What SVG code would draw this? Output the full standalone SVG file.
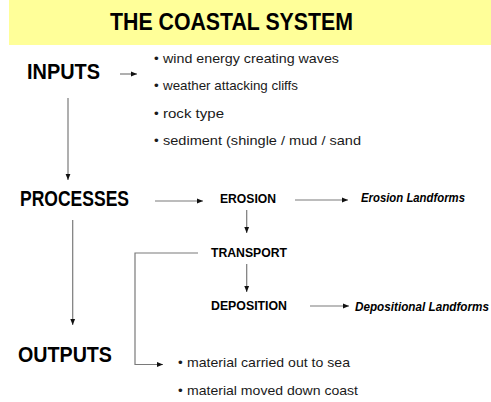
<svg xmlns="http://www.w3.org/2000/svg" width="491" height="402" viewBox="0 0 491 402">
<style>
.hdr{font-family:"Liberation Sans",Arial,sans-serif;font-weight:bold;font-size:22px;fill:#000}
.ttl{font-family:"Liberation Sans",Arial,sans-serif;font-weight:bold;font-size:23.5px;fill:#000}
.lbl{font-family:"Liberation Sans",Arial,sans-serif;font-weight:bold;font-size:12.5px;fill:#000}
.ita{font-family:"Liberation Sans",Arial,sans-serif;font-weight:bold;font-style:italic;font-size:12px;fill:#000}
.bul{font-family:"Liberation Sans",Arial,sans-serif;font-size:13.5px;fill:#1a1a1a}
.ln{fill:none;stroke:#7a7a7a;stroke-width:1.2}
</style>
<defs>
<marker id="ah" markerUnits="userSpaceOnUse" markerWidth="6" markerHeight="6" viewBox="0 0 6 6" refX="6" refY="3" orient="auto">
<path d="M0,0.6 L6,3 L0,5.4 Z" fill="#111"/>
</marker>
</defs>
<rect x="9" y="0" width="482" height="45" fill="#FFFF99"/>
<g id="title"><text class="ttl" x="110" y="30" textLength="243" lengthAdjust="spacingAndGlyphs">THE COASTAL SYSTEM</text></g>
<g id="inputs"><text class="hdr" x="27" y="79" textLength="73" lengthAdjust="spacingAndGlyphs">INPUTS</text></g>
<g id="processes"><text class="hdr" x="20" y="206" textLength="109" lengthAdjust="spacingAndGlyphs">PROCESSES</text></g>
<g id="outputs"><text class="hdr" x="18" y="362" textLength="94" lengthAdjust="spacingAndGlyphs">OUTPUTS</text></g>
<g id="input-list">
<text class="bul" x="154" y="63">•</text><text class="bul" x="163" y="63" textLength="176" lengthAdjust="spacingAndGlyphs">wind energy creating waves</text>
<text class="bul" x="154" y="90">•</text><text class="bul" x="163" y="90" textLength="135" lengthAdjust="spacingAndGlyphs">weather attacking cliffs</text>
<text class="bul" x="154" y="117.5">•</text><text class="bul" x="163" y="117.5" textLength="61" lengthAdjust="spacingAndGlyphs">rock type</text>
<text class="bul" x="154" y="145">•</text><text class="bul" x="163" y="145" textLength="198" lengthAdjust="spacingAndGlyphs">sediment (shingle / mud / sand</text>
</g>
<g id="erosion"><text class="lbl" x="220" y="203" textLength="56" lengthAdjust="spacingAndGlyphs">EROSION</text></g>
<g id="transport"><text class="lbl" x="211" y="257" textLength="76" lengthAdjust="spacingAndGlyphs">TRANSPORT</text></g>
<g id="deposition"><text class="lbl" x="211" y="310" textLength="76" lengthAdjust="spacingAndGlyphs">DEPOSITION</text></g>
<g id="erosion-landforms"><text class="ita" x="361" y="202" textLength="104" lengthAdjust="spacingAndGlyphs">Erosion Landforms</text></g>
<g id="depositional-landforms"><text class="ita" x="355" y="311" textLength="134" lengthAdjust="spacingAndGlyphs">Depositional Landforms</text></g>
<g id="output-list">
<text class="bul" x="178" y="367">•</text><text class="bul" x="187" y="367" textLength="163" lengthAdjust="spacingAndGlyphs">material carried out to sea</text>
<text class="bul" x="178" y="395">•</text><text class="bul" x="187" y="395" textLength="171" lengthAdjust="spacingAndGlyphs">material moved down coast</text>
</g>
<g id="connectors">
<line class="ln" x1="120" y1="74" x2="137" y2="74" marker-end="url(#ah)"/>
<line class="ln" x1="68" y1="98" x2="68" y2="180" marker-end="url(#ah)"/>
<line class="ln" x1="155" y1="201" x2="203" y2="201" marker-end="url(#ah)"/>
<line class="ln" x1="295" y1="200" x2="348" y2="200" marker-end="url(#ah)"/>
<line class="ln" x1="246.7" y1="210" x2="246.7" y2="233" marker-end="url(#ah)"/>
<line class="ln" x1="246.7" y1="264" x2="246.7" y2="292" marker-end="url(#ah)"/>
<line class="ln" x1="310" y1="306" x2="349" y2="306" marker-end="url(#ah)"/>
<polyline class="ln" points="198,253 135,253 135,364.5 163,364.5" marker-end="url(#ah)"/>
<line class="ln" x1="72.7" y1="220" x2="72.7" y2="325" marker-end="url(#ah)"/>
</g>
</svg>
